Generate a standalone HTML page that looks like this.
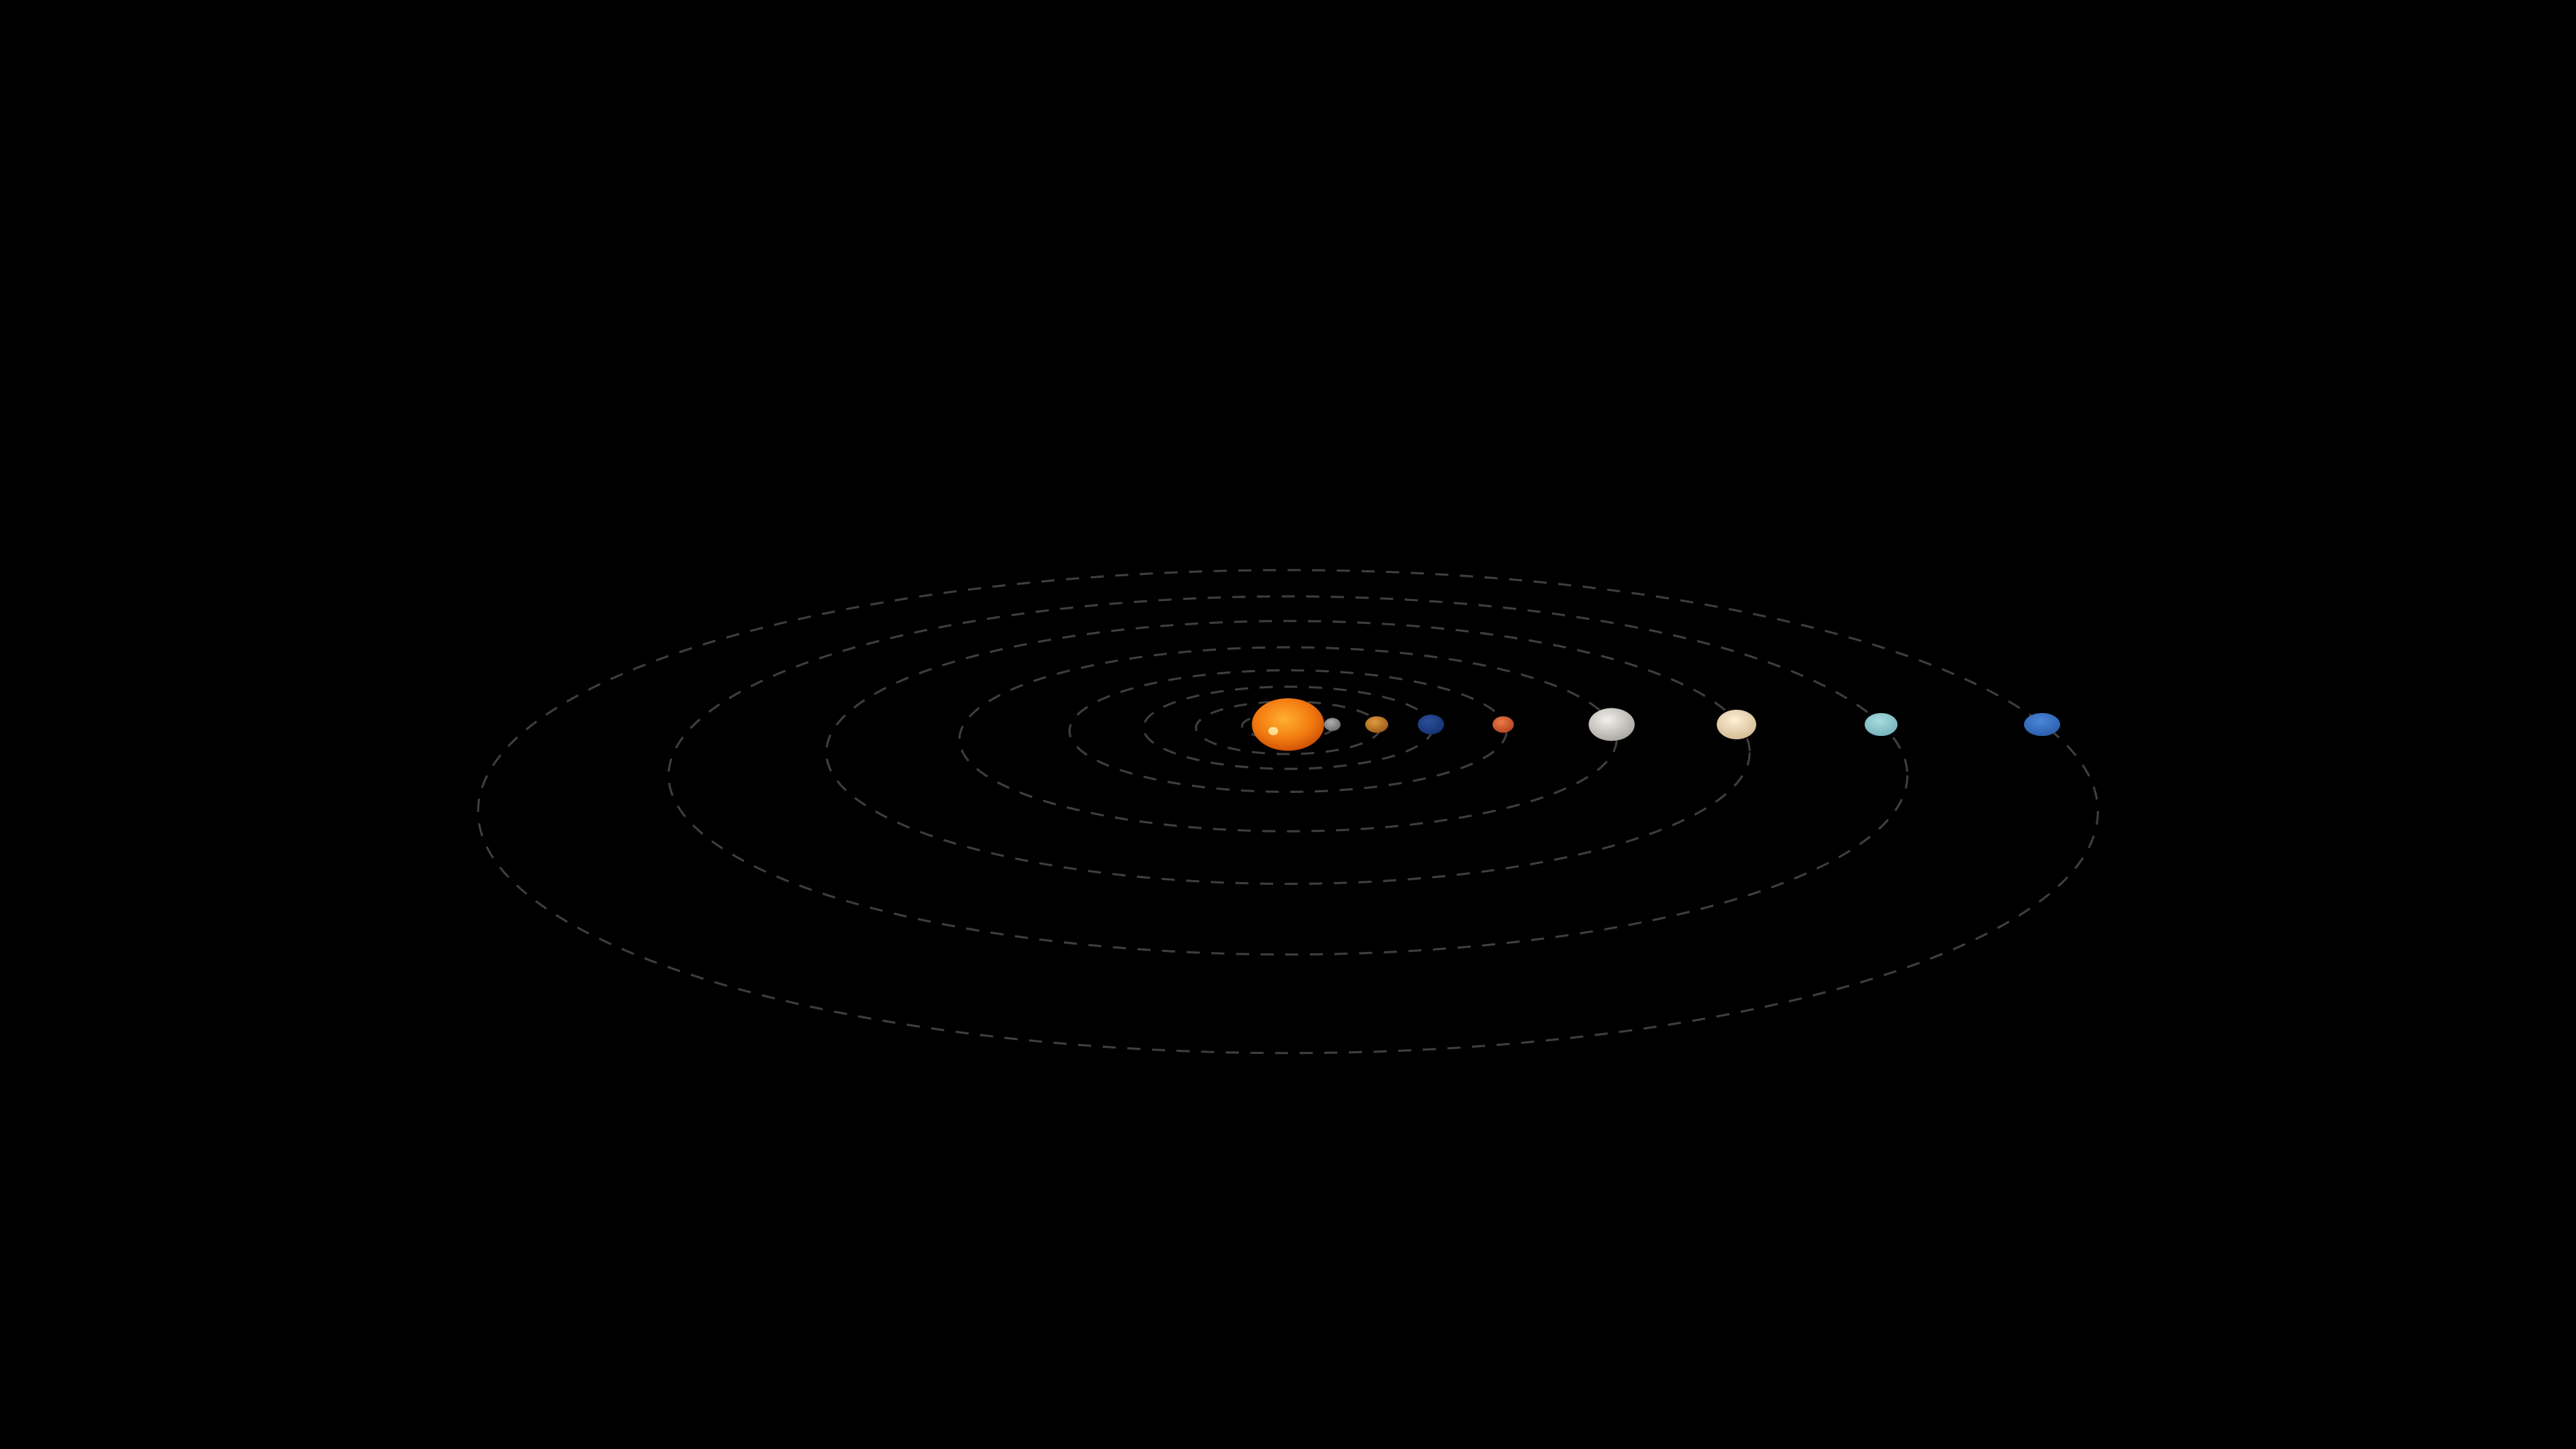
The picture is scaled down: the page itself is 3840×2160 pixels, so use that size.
<!DOCTYPE html>
<html><head><meta charset="utf-8"><style>
html,body{margin:0;padding:0;background:#000;width:3840px;height:2160px;overflow:hidden}
svg{display:block}
</style></head><body>
<svg id="chart" width="3840" height="2160" viewBox="0 0 1568 882" preserveAspectRatio="none" xmlns="http://www.w3.org/2000/svg">
<defs>
<radialGradient id="g-sun" cx="45%" cy="40%" r="65%"><stop offset="0" stop-color="#ffb030"/><stop offset="0.6" stop-color="#f27a10"/><stop offset="1" stop-color="#c84a05"/></radialGradient>
<radialGradient id="g-mercury" cx="40%" cy="35%" r="70%"><stop offset="0" stop-color="#b0b0b0"/><stop offset="1" stop-color="#6a6a6a"/></radialGradient>
<radialGradient id="g-venus" cx="40%" cy="35%" r="70%"><stop offset="0" stop-color="#e09a40"/><stop offset="1" stop-color="#9a5a18"/></radialGradient>
<radialGradient id="g-earth" cx="40%" cy="35%" r="70%"><stop offset="0" stop-color="#2a4f9a"/><stop offset="1" stop-color="#143270"/></radialGradient>
<radialGradient id="g-mars" cx="40%" cy="35%" r="70%"><stop offset="0" stop-color="#ee7a48"/><stop offset="1" stop-color="#b0451f"/></radialGradient>
<radialGradient id="g-jupiter" cx="40%" cy="35%" r="70%"><stop offset="0" stop-color="#f2f0ec"/><stop offset="1" stop-color="#a8a4a0"/></radialGradient>
<radialGradient id="g-saturn" cx="45%" cy="35%" r="70%"><stop offset="0" stop-color="#fff0d6"/><stop offset="1" stop-color="#d2b890"/></radialGradient>
<radialGradient id="g-uranus" cx="45%" cy="35%" r="70%"><stop offset="0" stop-color="#a8dcdf"/><stop offset="1" stop-color="#72b0b8"/></radialGradient>
<radialGradient id="g-neptune" cx="45%" cy="35%" r="70%"><stop offset="0" stop-color="#4a86d8"/><stop offset="1" stop-color="#2a5caa"/></radialGradient>
</defs>
<g id="orbits"></g>
<g id="bodies"></g>
</svg>
<script>
const planetNames = ["mercury","venus","earth","mars","jupiter","saturn","uranus","neptune"];
const orbitRx = [28, 56, 88, 133, 200, 281, 377, 493];
const orbitRy = [8, 16, 25, 37, 56, 80, 109, 147];
const orbitDy = [1, 2, 2, 4, 9, 17, 31, 53];
const planetDist = [27, 54, 87, 131, 197, 273, 361, 459];
const planetRx = [5, 7, 8, 6.5, 14, 12, 10, 11];
const planetRy = [4, 5, 6, 5, 10, 9, 7, 7];
const sunCx = 784, sunCy = 441;
const NS = "http://www.w3.org/2000/svg";
const orbits = document.getElementById("orbits");
const bodies = document.getElementById("bodies");
function mk(tag, attrs){const e=document.createElementNS(NS,tag);for(const k in attrs)e.setAttribute(k,attrs[k]);return e;}
const sun = mk("ellipse",{cx:sunCx,cy:sunCy,rx:22,ry:16,fill:"url(#g-sun)"});


bodies.appendChild(sun);
const spot = mk("ellipse",{cx:sunCx-9,cy:sunCy+4,rx:3,ry:2.5,fill:"#ffe9a0",opacity:0.9});


bodies.appendChild(spot);
planetNames.forEach((n,i)=>{
  const o = mk("ellipse",{cx:sunCx,cy:sunCy+orbitDy[i],rx:orbitRx[i],ry:orbitRy[i],fill:"none",stroke:"#3e3e3e","stroke-width":1.3,"stroke-dasharray":"8 7"});
  
  
  orbits.appendChild(o);
  const p = mk("ellipse",{cx:sunCx+planetDist[i],cy:sunCy,rx:planetRx[i],ry:planetRy[i],fill:"url(#g-"+n+")"});
  
  
  bodies.appendChild(p);
});
</script>
</body></html>
